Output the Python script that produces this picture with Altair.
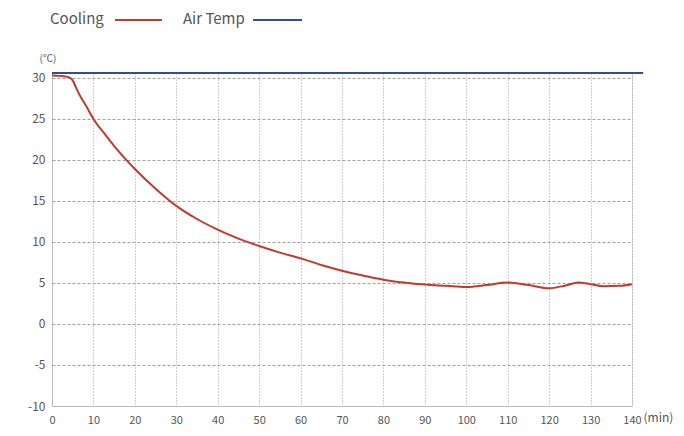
import altair as alt
import pandas as pd

# ---- data ----
minutes = [0, 2, 4, 5, 6, 7, 8, 10, 13, 16, 20, 25, 30, 35, 40, 45, 50, 55, 60,
           65, 70, 75, 80, 85, 90, 95, 100, 105, 110, 115, 120, 124, 127, 130, 133, 137, 140]
cooling = [30.3, 30.25, 30.1, 29.7, 28.6, 27.6, 26.8, 25.0, 23.0, 21.1, 18.9, 16.5, 14.4,
           12.8, 11.5, 10.4, 9.5, 8.7, 8.0, 7.2, 6.5, 5.9, 5.4, 5.05, 4.8, 4.65, 4.5,
           4.75, 5.05, 4.75, 4.35, 4.7, 5.05, 4.85, 4.6, 4.65, 4.85]
air_minutes = [0, 142.7]
air_temp = [30.6, 30.6]

series_names = ["Cooling", "Air Temp"]
series_colors = ["#c23a2c", "#2d4f9b"]
x_ticks = list(range(0, 141, 10))
y_ticks = list(range(-10, 31, 5))

df_cool = pd.DataFrame({"min": minutes, "temp": cooling, "series": series_names[0]})
df_air = pd.DataFrame({"min": air_minutes, "temp": air_temp, "series": series_names[1]})

FONT = "Noto Sans CJK KR"
GREY = "#555555"

x_scale = alt.Scale(domain=[0, 140], nice=False, zero=False)
y_scale = alt.Scale(domain=[-10, 30.6], nice=False, zero=False)

x_axis = alt.Axis(values=x_ticks, title="(min)", titleAngle=0, titleAlign="left",
                  titleBaseline="top",
                  titleX=591, titleY=6, titleFontWeight="normal", titleFontSize=12,
                  titleColor=GREY, titleFont=FONT,
                  labelFontSize=11, labelColor=GREY, labelFont=FONT, labelPadding=8,
                  ticks=False, domainColor="#bbbbbb", gridColor="#a0a0a0",
                  gridDash=[1, 2], labelFlush=False)
y_axis = alt.Axis(values=y_ticks, title="(℃)", titleAngle=0, titleAlign="left",
                  titleBaseline="middle",
                  titleX=-13, titleY=-15, titleFontWeight="normal", titleFontSize=10,
                  titleColor=GREY, titleFont=FONT,
                  labelFontSize=12, labelColor=GREY, labelFont=FONT, labelPadding=7,
                  labelExpr="toString(datum.value)",
                  ticks=False, domainColor="#bbbbbb", gridColor="#a0a0a0",
                  gridDash=[3, 2])

color_scale = alt.Scale(domain=series_names, range=series_colors)

cool_line = alt.Chart(df_cool).mark_line(strokeWidth=2, interpolate="monotone").encode(
    x=alt.X("min:Q", scale=x_scale, axis=x_axis),
    y=alt.Y("temp:Q", scale=y_scale, axis=y_axis),
    color=alt.Color("series:N", scale=color_scale, legend=None),
)
air_line = alt.Chart(df_air).mark_line(strokeWidth=2, clip=False).encode(
    x=alt.X("min:Q", scale=x_scale),
    y=alt.Y("temp:Q", scale=y_scale),
    color=alt.Color("series:N", scale=color_scale, legend=None),
)

# ---- manual legend (label before swatch) ----
leg = pd.DataFrame({"name": series_names, "color": series_colors,
                    "tx": [-2, 131], "lx": [63, 201], "lx2": [110, 250]})
leg_text = alt.Chart(leg).mark_text(align="left", baseline="middle", fontSize=15,
                                     font=FONT, color=GREY).encode(
    x=alt.X("tx:Q", scale=None), y=alt.value(-54), text="name:N")
leg_rule = alt.Chart(leg).mark_rule(strokeWidth=2).encode(
    x=alt.X("lx:Q", scale=None), x2="lx2:Q", y=alt.value(-53),
    color=alt.Color("color:N", scale=None))

chart = alt.layer(cool_line, air_line, leg_text, leg_rule).properties(
    width=580, height=333,
    autosize=alt.AutoSizeParams(type="none"),
    padding={"left": 44, "top": 65, "right": 44, "bottom": 22},
).configure_view(stroke=None).configure(background="white")

chart.save("out.html", embed_options={"renderer": "svg", "actions": False})
